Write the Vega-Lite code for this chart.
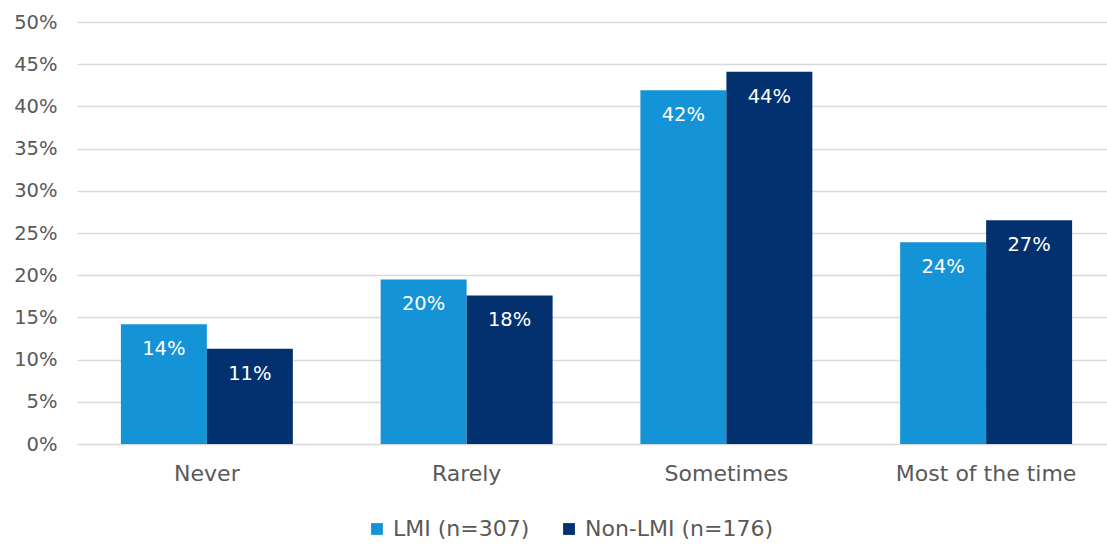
{
  "$schema": "https://vega.github.io/schema/vega-lite/v6.json",
  "autosize": "none",
  "width": 1030,
  "height": 422,
  "padding": {"left": 77, "top": 22, "right": 0, "bottom": 100},
  "background": "white",
  "config": {
    "view": {"stroke": null},
    "font": "DejaVu Sans"
  },
  "data": {
    "values": [
      {"frequency": "Never", "group": "LMI (n=307)", "share": 0.142},
      {"frequency": "Never", "group": "Non-LMI (n=176)", "share": 0.113},
      {"frequency": "Rarely", "group": "LMI (n=307)", "share": 0.195},
      {"frequency": "Rarely", "group": "Non-LMI (n=176)", "share": 0.176},
      {"frequency": "Sometimes", "group": "LMI (n=307)", "share": 0.419},
      {"frequency": "Sometimes", "group": "Non-LMI (n=176)", "share": 0.441},
      {"frequency": "Most of the time", "group": "LMI (n=307)", "share": 0.239},
      {"frequency": "Most of the time", "group": "Non-LMI (n=176)", "share": 0.265}
    ]
  },
  "encoding": {
    "x": {
      "field": "frequency",
      "type": "nominal",
      "sort": ["Never", "Rarely", "Sometimes", "Most of the time"],
      "scale": {"range": [0, 1039], "paddingInner": 0.338, "paddingOuter": 0.169},
      "axis": {
        "title": null,
        "labelAngle": 0,
        "ticks": false,
        "domain": false,
        "labelPadding": 19,
        "labelFontSize": 22,
        "labelLimit": 400,
        "labelColor": "#595959",
        "labelFont": "DejaVu Sans"
      }
    },
    "xOffset": {
      "field": "group",
      "type": "nominal",
      "sort": ["LMI (n=307)", "Non-LMI (n=176)"]
    },
    "y": {
      "field": "share",
      "type": "quantitative",
      "scale": {"domain": [0, 0.5], "nice": false},
      "axis": {
        "title": null,
        "values": [0, 0.05, 0.1, 0.15, 0.2, 0.25, 0.3, 0.35, 0.4, 0.45, 0.5],
        "format": ".0%",
        "ticks": false,
        "domain": false,
        "labelPadding": 20,
        "labelFontSize": 19.5,
        "labelColor": "#595959",
        "labelFont": "DejaVu Sans",
        "gridColor": "#d9d9d9",
        "gridWidth": 1.5
      }
    }
  },
  "layer": [
    {
      "mark": {"type": "bar"},
      "encoding": {
        "color": {
          "field": "group",
          "type": "nominal",
          "sort": ["LMI (n=307)", "Non-LMI (n=176)"],
          "scale": {"range": ["#1593d7", "#03316f"]},
          "legend": {
            "title": null,
            "orient": "none",
            "direction": "horizontal",
            "legendX": 289,
            "legendY": 496,
            "symbolType": "square",
            "symbolSize": 140,
            "symbolStrokeWidth": 0,
            "symbolOpacity": 1,
            "labelFontSize": 22,
            "labelColor": "#595959",
            "labelFont": "DejaVu Sans",
            "labelOffset": 5,
            "columnPadding": 28,
            "labelLimit": 300
          }
        }
      }
    },
    {
      "mark": {"type": "text", "baseline": "top", "dy": 16, "color": "white", "fontSize": 19.5, "font": "DejaVu Sans"},
      "encoding": {
        "text": {"field": "share", "type": "quantitative", "format": ".0%"},
        "detail": {"field": "group"}
      }
    }
  ]
}
